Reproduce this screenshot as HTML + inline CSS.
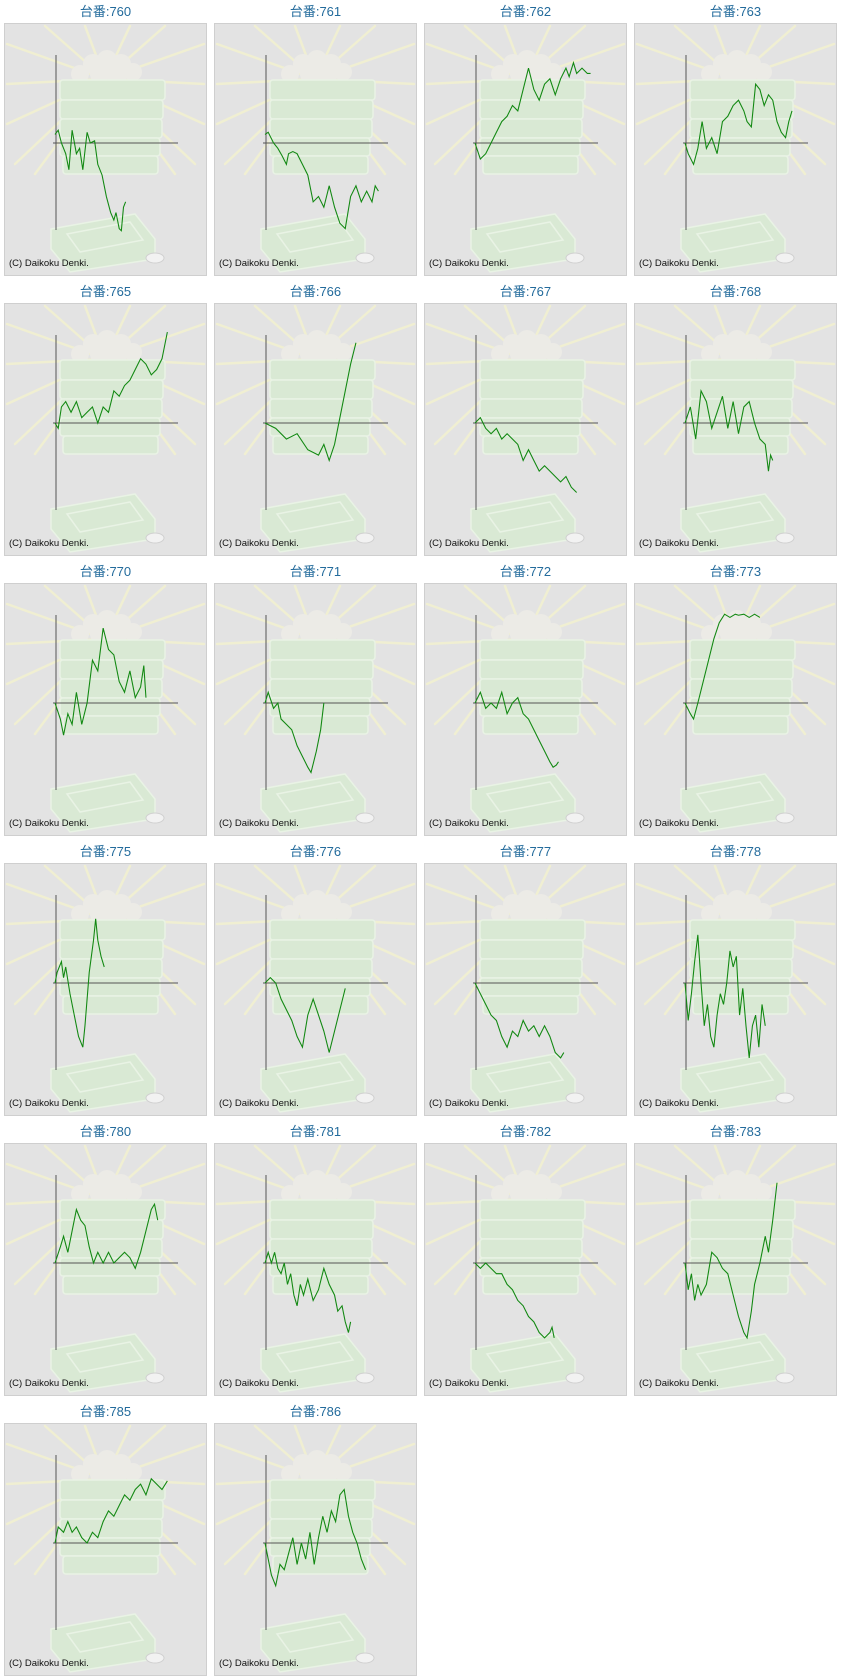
<!DOCTYPE html>
<html><head><meta charset="utf-8"><style>
body{margin:0;background:#fff;width:843px;height:1679px;position:relative;overflow:hidden;font-family:"Liberation Sans","Noto Sans CJK JP",sans-serif}
.c{position:absolute;width:203px}
.t{height:23px;line-height:24px;text-align:center;color:#236b9c;font-size:13px}
.p{position:relative;width:201px;height:251px;border:1px solid #cfcfcf;background:#e3e3e3}
.p svg{position:absolute;left:0;top:0}
.cr{position:absolute;left:4px;top:234px;font-size:9.5px;color:#111}
</style></head><body>
<svg width="0" height="0" style="position:absolute">
<defs>
<g id="bg">
<g stroke="#f0efd2" stroke-width="2.5" stroke-linecap="round">
<line x1="100" y1="55" x2="2" y2="20"/><line x1="100" y1="55" x2="2" y2="60"/><line x1="100" y1="55" x2="2" y2="100"/><line x1="100" y1="55" x2="10" y2="140"/>
<line x1="100" y1="55" x2="199" y2="20"/><line x1="100" y1="55" x2="199" y2="60"/><line x1="100" y1="55" x2="199" y2="100"/><line x1="100" y1="55" x2="190" y2="140"/>
<line x1="100" y1="55" x2="40" y2="2"/><line x1="100" y1="55" x2="160" y2="2"/><line x1="100" y1="55" x2="80" y2="2"/><line x1="100" y1="55" x2="125" y2="2"/>
<line x1="100" y1="55" x2="30" y2="150"/><line x1="100" y1="55" x2="170" y2="150"/></g>
<g fill="#ecebe6"><circle cx="75" cy="50" r="9"/><circle cx="88" cy="40" r="10"/><circle cx="102" cy="36" r="10"/><circle cx="116" cy="40" r="10"/><circle cx="128" cy="48" r="9"/><circle cx="95" cy="50" r="10"/><circle cx="112" cy="52" r="10"/></g>
<g fill="#d9e9d4" stroke="#e9f3e5" stroke-width="1.5">
<rect x="55" y="56" width="105" height="20" rx="3"/><rect x="55" y="76" width="103" height="19" rx="3"/><rect x="55" y="95" width="102" height="19" rx="3"/><rect x="55" y="114" width="100" height="18" rx="3"/><rect x="58" y="132" width="95" height="18" rx="3"/>
<path d="M46 205 L130 190 L150 215 L150 235 L65 248 L46 225 Z"/>
<path d="M62 210 L125 198 L138 216 L75 228 Z" fill="none"/></g>
<ellipse cx="150" cy="234" rx="9" ry="5" fill="#f2f2f2" stroke="#d0d0d0"/>
</g></defs></svg>

<div class="c" style="left:4px;top:0"><div class="t">台番:760</div><div class="p"><svg width="201" height="251"><use href="#bg"/><g stroke="#555" stroke-width="1"><line x1="51" y1="31" x2="51" y2="206"/><line x1="48" y1="119" x2="173" y2="119"/></g><g transform="translate(50,119) scale(1.07)"><polyline fill="none" stroke="#118811" stroke-width="1" points="0,-8 3,-12 6,0 10,10 13,25 16,-12 20,10 23,5 26,25 30,-10 33,0 37,-2 40,20 44,30 48,50 52,65 55,72 57,65 60,80 62,82 64,60 66,55"/></g></svg><div class="cr">(C) Daikoku Denki.</div></div></div>
<div class="c" style="left:214px;top:0"><div class="t">台番:761</div><div class="p"><svg width="201" height="251"><use href="#bg"/><g stroke="#555"><line x1="51" y1="31" x2="51" y2="206"/><line x1="48" y1="119" x2="173" y2="119"/></g><g transform="translate(50,119) scale(1.07)"><polyline fill="none" stroke="#118811" points="0,-8 3,-10 8,0 12,5 16,12 20,20 22,10 26,8 30,10 35,20 40,30 45,55 50,50 55,60 60,40 65,60 70,75 75,80 80,50 85,40 90,55 95,45 100,55 103,40 106,45"/></g></svg><div class="cr">(C) Daikoku Denki.</div></div></div>
<div class="c" style="left:424px;top:0"><div class="t">台番:762</div><div class="p"><svg width="201" height="251"><use href="#bg"/><g stroke="#555"><line x1="51" y1="31" x2="51" y2="206"/><line x1="48" y1="119" x2="173" y2="119"/></g><g transform="translate(50,119) scale(1.07)"><polyline fill="none" stroke="#118811" points="0,0 5,15 10,10 15,0 20,-10 25,-20 30,-25 35,-35 40,-30 45,-50 50,-70 55,-50 60,-40 65,-55 70,-60 75,-45 80,-60 85,-70 88,-62 92,-75 95,-65 100,-70 105,-65 108,-65"/></g></svg><div class="cr">(C) Daikoku Denki.</div></div></div>
<div class="c" style="left:634px;top:0"><div class="t">台番:763</div><div class="p"><svg width="201" height="251"><use href="#bg"/><g stroke="#555"><line x1="51" y1="31" x2="51" y2="206"/><line x1="48" y1="119" x2="173" y2="119"/></g><g transform="translate(50,119) scale(1.07)"><polyline fill="none" stroke="#118811" points="0,0 3,10 8,20 12,5 16,-20 20,5 25,-5 30,10 35,-20 40,-25 45,-35 50,-40 55,-30 58,-20 62,-15 66,-55 70,-50 74,-35 78,-45 82,-40 86,-20 90,-10 94,-5 97,-20 100,-30"/></g></svg><div class="cr">(C) Daikoku Denki.</div></div></div>

<div class="c" style="left:4px;top:280px"><div class="t">台番:765</div><div class="p"><svg width="201" height="251"><use href="#bg"/><g stroke="#555"><line x1="51" y1="31" x2="51" y2="206"/><line x1="48" y1="119" x2="173" y2="119"/></g><g transform="translate(50,119) scale(1.07)"><polyline fill="none" stroke="#118811" points="0,0 3,5 6,-15 10,-20 15,-10 20,-20 25,-5 30,-10 35,-15 40,0 45,-15 50,-10 55,-30 60,-25 65,-35 70,-40 75,-50 80,-60 85,-55 90,-45 95,-50 100,-60 105,-85"/></g></svg><div class="cr">(C) Daikoku Denki.</div></div></div>
<div class="c" style="left:214px;top:280px"><div class="t">台番:766</div><div class="p"><svg width="201" height="251"><use href="#bg"/><g stroke="#555"><line x1="51" y1="31" x2="51" y2="206"/><line x1="48" y1="119" x2="173" y2="119"/></g><g transform="translate(50,119) scale(1.07)"><polyline fill="none" stroke="#118811" points="0,0 10,5 20,15 30,10 40,25 50,30 55,20 60,35 65,20 70,-5 75,-30 80,-55 85,-75"/></g></svg><div class="cr">(C) Daikoku Denki.</div></div></div>
<div class="c" style="left:424px;top:280px"><div class="t">台番:767</div><div class="p"><svg width="201" height="251"><use href="#bg"/><g stroke="#555"><line x1="51" y1="31" x2="51" y2="206"/><line x1="48" y1="119" x2="173" y2="119"/></g><g transform="translate(50,119) scale(1.07)"><polyline fill="none" stroke="#118811" points="0,0 5,-5 10,5 15,10 20,5 25,15 30,10 40,20 45,35 50,25 55,35 60,45 65,40 70,45 75,50 80,55 85,50 90,60 95,65"/></g></svg><div class="cr">(C) Daikoku Denki.</div></div></div>
<div class="c" style="left:634px;top:280px"><div class="t">台番:768</div><div class="p"><svg width="201" height="251"><use href="#bg"/><g stroke="#555"><line x1="51" y1="31" x2="51" y2="206"/><line x1="48" y1="119" x2="173" y2="119"/></g><g transform="translate(50,119) scale(1.07)"><polyline fill="none" stroke="#118811" points="0,0 5,-15 10,15 15,-30 20,-20 25,5 30,-10 35,-25 40,5 45,-20 50,10 55,-15 60,-20 65,0 70,15 75,20 78,45 80,30 82,35"/></g></svg><div class="cr">(C) Daikoku Denki.</div></div></div>

<div class="c" style="left:4px;top:560px"><div class="t">台番:770</div><div class="p"><svg width="201" height="251"><use href="#bg"/><g stroke="#555"><line x1="51" y1="31" x2="51" y2="206"/><line x1="48" y1="119" x2="173" y2="119"/></g><g transform="translate(50,119) scale(1.07)"><polyline fill="none" stroke="#118811" points="0,0 5,15 8,30 12,10 16,20 20,-10 25,20 30,0 35,-40 40,-30 45,-70 50,-50 55,-45 60,-20 65,-10 70,-30 75,-5 80,-15 83,-35 85,-5"/></g></svg><div class="cr">(C) Daikoku Denki.</div></div></div>
<div class="c" style="left:214px;top:560px"><div class="t">台番:771</div><div class="p"><svg width="201" height="251"><use href="#bg"/><g stroke="#555"><line x1="51" y1="31" x2="51" y2="206"/><line x1="48" y1="119" x2="173" y2="119"/></g><g transform="translate(50,119) scale(1.07)"><polyline fill="none" stroke="#118811" points="0,0 3,-10 8,5 12,0 15,15 20,20 25,25 30,40 35,50 40,60 43,65 48,45 52,25 55,0"/></g></svg><div class="cr">(C) Daikoku Denki.</div></div></div>
<div class="c" style="left:424px;top:560px"><div class="t">台番:772</div><div class="p"><svg width="201" height="251"><use href="#bg"/><g stroke="#555"><line x1="51" y1="31" x2="51" y2="206"/><line x1="48" y1="119" x2="173" y2="119"/></g><g transform="translate(50,119) scale(1.07)"><polyline fill="none" stroke="#118811" points="0,0 5,-10 10,5 15,0 20,5 25,-10 30,10 35,0 40,-5 45,10 50,15 55,25 60,35 65,45 70,55 73,60 76,58 78,55"/></g></svg><div class="cr">(C) Daikoku Denki.</div></div></div>
<div class="c" style="left:634px;top:560px"><div class="t">台番:773</div><div class="p"><svg width="201" height="251"><use href="#bg"/><g stroke="#555"><line x1="51" y1="31" x2="51" y2="206"/><line x1="48" y1="119" x2="173" y2="119"/></g><g transform="translate(50,119) scale(1.07)"><polyline fill="none" stroke="#118811" points="0,0 5,10 8,15 12,0 17,-20 22,-40 27,-60 32,-75 37,-83 42,-80 47,-83 50,-82 55,-83 60,-80 65,-83 70,-80"/></g></svg><div class="cr">(C) Daikoku Denki.</div></div></div>

<div class="c" style="left:4px;top:840px"><div class="t">台番:775</div><div class="p"><svg width="201" height="251"><use href="#bg"/><g stroke="#555"><line x1="51" y1="31" x2="51" y2="206"/><line x1="48" y1="119" x2="173" y2="119"/></g><g transform="translate(50,119) scale(1.07)"><polyline fill="none" stroke="#118811" points="0,0 2,-10 4,-15 6,-20 8,-5 10,-15 14,10 18,30 22,50 26,60 28,40 32,-10 36,-40 38,-60 40,-40 43,-25 46,-15"/></g></svg><div class="cr">(C) Daikoku Denki.</div></div></div>
<div class="c" style="left:214px;top:840px"><div class="t">台番:776</div><div class="p"><svg width="201" height="251"><use href="#bg"/><g stroke="#555"><line x1="51" y1="31" x2="51" y2="206"/><line x1="48" y1="119" x2="173" y2="119"/></g><g transform="translate(50,119) scale(1.07)"><polyline fill="none" stroke="#118811" points="0,0 5,-5 10,0 15,15 20,25 25,35 30,50 35,60 40,30 45,15 50,30 55,45 60,65 65,45 70,25 75,5"/></g></svg><div class="cr">(C) Daikoku Denki.</div></div></div>
<div class="c" style="left:424px;top:840px"><div class="t">台番:777</div><div class="p"><svg width="201" height="251"><use href="#bg"/><g stroke="#555"><line x1="51" y1="31" x2="51" y2="206"/><line x1="48" y1="119" x2="173" y2="119"/></g><g transform="translate(50,119) scale(1.07)"><polyline fill="none" stroke="#118811" points="0,0 5,10 10,20 15,30 20,35 25,50 30,60 35,45 40,50 45,35 50,45 55,40 60,50 65,40 70,50 75,65 80,70 83,65"/></g></svg><div class="cr">(C) Daikoku Denki.</div></div></div>
<div class="c" style="left:634px;top:840px"><div class="t">台番:778</div><div class="p"><svg width="201" height="251"><use href="#bg"/><g stroke="#555"><line x1="51" y1="31" x2="51" y2="206"/><line x1="48" y1="119" x2="173" y2="119"/></g><g transform="translate(50,119) scale(1.07)"><polyline fill="none" stroke="#118811" points="0,0 3,35 6,10 9,-20 12,-45 15,0 18,40 21,20 24,50 27,60 30,30 33,10 36,20 39,0 42,-30 45,-15 48,-25 51,30 54,5 57,40 60,70 63,40 66,30 69,60 72,20 75,40"/></g></svg><div class="cr">(C) Daikoku Denki.</div></div></div>

<div class="c" style="left:4px;top:1120px"><div class="t">台番:780</div><div class="p"><svg width="201" height="251"><use href="#bg"/><g stroke="#555"><line x1="51" y1="31" x2="51" y2="206"/><line x1="48" y1="119" x2="173" y2="119"/></g><g transform="translate(50,119) scale(1.07)"><polyline fill="none" stroke="#118811" points="0,0 5,-15 8,-25 12,-10 16,-30 20,-50 24,-40 28,-35 32,-15 36,0 40,-10 45,0 50,-10 55,0 60,-5 65,-10 70,-5 75,5 80,-10 85,-30 90,-50 93,-55 96,-40"/></g></svg><div class="cr">(C) Daikoku Denki.</div></div></div>
<div class="c" style="left:214px;top:1120px"><div class="t">台番:781</div><div class="p"><svg width="201" height="251"><use href="#bg"/><g stroke="#555"><line x1="51" y1="31" x2="51" y2="206"/><line x1="48" y1="119" x2="173" y2="119"/></g><g transform="translate(50,119) scale(1.07)"><polyline fill="none" stroke="#118811" points="0,0 3,-10 6,0 9,-10 12,5 15,10 18,0 21,20 24,10 27,30 30,40 33,20 36,30 40,15 45,35 50,25 55,5 60,20 65,30 68,45 72,40 75,55 78,65 80,55"/></g></svg><div class="cr">(C) Daikoku Denki.</div></div></div>
<div class="c" style="left:424px;top:1120px"><div class="t">台番:782</div><div class="p"><svg width="201" height="251"><use href="#bg"/><g stroke="#555"><line x1="51" y1="31" x2="51" y2="206"/><line x1="48" y1="119" x2="173" y2="119"/></g><g transform="translate(50,119) scale(1.07)"><polyline fill="none" stroke="#118811" points="0,0 5,5 10,0 15,5 20,10 25,10 30,20 35,25 40,35 45,40 50,50 55,55 60,65 65,70 70,65 72,60 74,70"/></g></svg><div class="cr">(C) Daikoku Denki.</div></div></div>
<div class="c" style="left:634px;top:1120px"><div class="t">台番:783</div><div class="p"><svg width="201" height="251"><use href="#bg"/><g stroke="#555"><line x1="51" y1="31" x2="51" y2="206"/><line x1="48" y1="119" x2="173" y2="119"/></g><g transform="translate(50,119) scale(1.07)"><polyline fill="none" stroke="#118811" points="0,0 3,25 6,10 9,35 12,20 15,30 20,20 25,-10 30,-5 35,5 40,10 45,30 50,50 55,65 58,70 62,45 65,20 70,0 75,-25 78,-10 82,-40 86,-75"/></g></svg><div class="cr">(C) Daikoku Denki.</div></div></div>

<div class="c" style="left:4px;top:1400px"><div class="t">台番:785</div><div class="p"><svg width="201" height="251"><use href="#bg"/><g stroke="#555"><line x1="51" y1="31" x2="51" y2="206"/><line x1="48" y1="119" x2="173" y2="119"/></g><g transform="translate(50,119) scale(1.07)"><polyline fill="none" stroke="#118811" points="0,0 3,-15 8,-10 12,-20 16,-10 20,-15 25,-5 30,0 35,-10 40,-5 45,-20 50,-30 55,-25 60,-35 65,-45 70,-40 75,-50 80,-55 85,-45 90,-60 95,-55 100,-50 105,-58"/></g></svg><div class="cr">(C) Daikoku Denki.</div></div></div>
<div class="c" style="left:214px;top:1400px"><div class="t">台番:786</div><div class="p"><svg width="201" height="251"><use href="#bg"/><g stroke="#555"><line x1="51" y1="31" x2="51" y2="206"/><line x1="48" y1="119" x2="173" y2="119"/></g><g transform="translate(50,119) scale(1.07)"><polyline fill="none" stroke="#118811" points="0,0 3,15 6,30 10,40 14,20 18,25 22,10 26,-5 30,20 34,0 38,15 42,-10 46,20 50,-5 54,-25 58,-10 62,-30 66,-20 70,-45 74,-50 78,-25 82,-10 86,0 90,15 94,25"/></g></svg><div class="cr">(C) Daikoku Denki.</div></div></div>
</body></html>
